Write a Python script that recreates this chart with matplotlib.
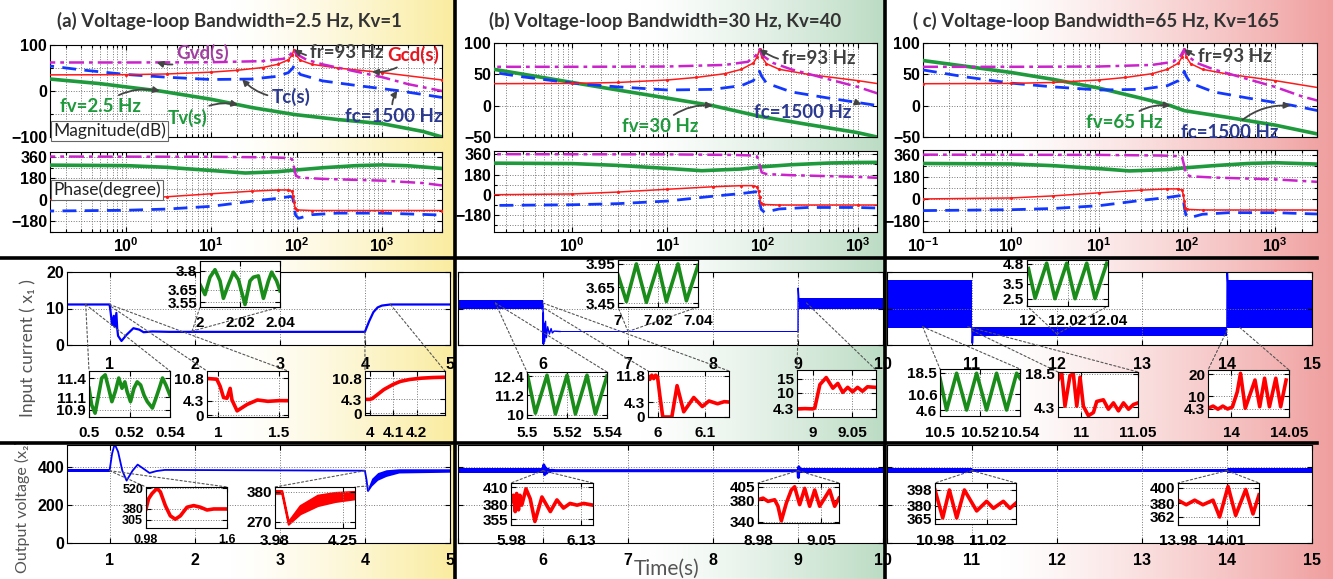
import numpy as np
import matplotlib
matplotlib.use("Agg")
import matplotlib.pyplot as plt
from matplotlib.patches import ConnectionPatch
from matplotlib.lines import Line2D
from matplotlib.ticker import NullFormatter

# ---------------- Bode data (Hz, dB, degree) ----------------
gvd_f = [0.1, 1, 10, 40, 70, 85, 93, 100, 130, 200, 500, 1000, 2000, 5000]
gvd_db = [62, 62, 62.5, 65, 70, 80, 90, 80, 68, 58, 42, 30, 15, 0]
gcd_f = [0.1, 1, 3, 10, 20, 40, 60, 80, 88, 93, 98, 110, 150, 300, 1000, 5000]
gcd_db = [35, 35.5, 37, 41, 45, 51, 58, 68, 78, 90, 78, 67, 58, 50, 40, 24]
tc_f = [0.1, 0.3, 1, 3, 10, 30, 60, 80, 90, 93, 97, 110, 200, 500, 1500, 5000]
tc_db = [57, 46, 36, 30, 25, 26, 32, 40, 50, 55, 48, 36, 22, 12, 1, -14]

gvd_ph_f = [0.1, 10, 50, 80, 88, 93, 98, 110, 200, 1000, 3000, 5000]
gvd_ph = [362, 360, 355, 350, 340, 270, 200, 185, 175, 160, 140, 120]
gcd_ph_f = [0.1, 1, 3, 10, 30, 60, 80, 88, 91, 93, 96, 100, 150, 1000, 5000]
gcd_ph = [0, 8, 25, 50, 72, 82, 82, 70, 30, -20, -70, -85, -90, -90, -90]
tc_ph_f = [0.1, 1, 3, 10, 30, 60, 85, 90, 93, 97, 105, 150, 300, 1000, 5000]
tc_ph = [-95, -88, -78, -55, -12, 12, 28, 15, -60, -130, -155, -125, -112, -112, -128]

# voltage loop gain Tv(s) for the three bandwidths
tva_f = [0.13, 0.5, 1, 2.5, 10, 30, 93, 300, 1000, 3000, 5000]
tva_db = [26, 16, 9, 0, -18, -36, -51, -62, -71, -88, -100]
tva_ph_f = [0.13, 1, 3, 10, 25, 60, 93, 200, 500, 1000, 2000, 5000]
tva_ph = [290, 286, 272, 245, 224, 235, 248, 268, 286, 292, 285, 262]

tvb_f = [0.15, 1, 3, 10, 30, 93, 300, 1000, 1600]
tvb_db = [58, 37, 25, 12, 0, -17, -30, -43, -50]
tvb_ph_f = [0.15, 1, 3, 10, 23, 60, 93, 200, 500, 1000, 1600]
tvb_ph = [282, 278, 262, 235, 215, 230, 248, 268, 283, 288, 289]

tvc_f = [0.1, 0.3, 1, 3, 10, 30, 65, 93, 300, 1000, 3000]
tvc_db = [72, 63, 53, 42, 28, 12, 0, -8, -19, -31, -45]
tvc_ph_f = [0.1, 1, 3, 10, 22, 60, 93, 200, 500, 1000, 3000]
tvc_ph = [290, 286, 272, 248, 229, 240, 254, 272, 290, 296, 285]

# ---------------- time-domain data ----------------
# input current, case (a)
ia_t = [0.5, 1.0, 1.01, 1.03, 1.05, 1.06, 1.08, 1.09, 1.1, 1.14, 1.2, 1.28, 1.35, 1.4, 1.5, 1.7,
        4.0, 4.05, 4.1, 4.15, 4.2, 4.3, 5.0]
ia_v = [11.1, 11.1, 9.5, 5.5, 8.0, 5.0, 8.8, 4.5, 2.5, 1.1, 2.8, 4.6, 4.2, 3.5, 3.7, 3.6,
        3.6, 6.5, 9.0, 10.3, 10.8, 11.1, 11.1]
# input current, case (b)
ib_band1_t = [5.0, 6.0]
ib_band1_lo = [10.0, 10.0]
ib_band1_hi = [12.4, 12.4]
ib_step_t = [6.0, 6.002, 6.004, 6.008, 6.012, 6.02, 6.03, 6.04, 6.055, 6.075, 6.095, 6.11, 6.13, 6.2]
ib_step_v = [11.0, 0.3, 8.8, 0.3, 6.0, 1.0, 6.5, 2.0, 5.0, 3.0, 4.5, 3.3, 3.8, 3.7]
ib_band2_t = [6.15, 9.0]
ib_band2_lo = [3.45, 3.45]
ib_band2_hi = [3.95, 3.95]
ib_step2_t = [9.0, 9.002, 9.012]
ib_step2_v = [3.7, 15.6, 12.0]
ib_band3_t = [9.01, 10.0]
ib_band3_lo = [9.8, 9.8]
ib_band3_hi = [12.9, 12.9]
# input current, case (c)
ic_band_t = [10.0, 11.0, 11.0, 14.0, 14.0, 15.0]
ic_band_lo = [4.6, 4.6, 2.4, 2.4, 4.6, 4.6]
ic_band_hi = [17.8, 17.8, 4.9, 4.9, 17.8, 17.8]
ic_step1_t = [11.0, 11.004, 11.01]
ic_step1_v = [4.6, 0.5, 3.0]
ic_step2_t = [14.0, 14.003, 14.01]
ic_step2_v = [4.9, 20.0, 17.0]

# output voltage
va_band1_t = [0.5, 1.0]
va_band1_lo = [372, 372]
va_band1_hi = [390, 390]
va_t = [1.0, 1.03, 1.06, 1.1, 1.15, 1.2, 1.27, 1.33, 1.4, 1.47, 1.55, 1.65, 4.0, 4.02, 4.035]
va_v = [380, 470, 520, 480, 380, 328, 380, 412, 390, 368, 378, 384, 380, 330, 275]
va_band2_t = [4.035, 4.08, 4.15, 4.25, 4.4, 5.0]
va_band2_lo = [270, 300, 330, 350, 368, 372]
va_band2_hi = [290, 340, 370, 385, 390, 390]

vb_band1_t = [5.0, 6.0]
vb_band1_lo = [370, 370]
vb_band1_hi = [392, 392]
vb_t = [6.0, 6.01, 6.02, 6.03, 6.045, 6.06, 6.08, 6.1, 6.15, 9.0, 9.005, 9.01, 9.02]
vb_v = [380, 410, 360, 395, 368, 388, 375, 382, 380, 380, 345, 400, 380]
vb_band2_t = [9.02, 10.0]
vb_band2_lo = [370, 370]
vb_band2_hi = [392, 392]

vc_band_t = [10.0, 11.0, 11.0, 14.0, 14.0, 15.0]
vc_band_lo = [368, 368, 374, 374, 368, 368]
vc_band_hi = [394, 394, 388, 388, 394, 394]

# zoomed windows: input current
za_top_t = [2.000, 2.0025, 2.005, 2.0075, 2.010, 2.0117, 2.0142, 2.0167, 2.0192, 2.0225, 2.025,
            2.0267, 2.0292, 2.0317, 2.0342, 2.0358, 2.0383, 2.040]
za_top_v = [3.69, 3.61, 3.75, 3.81, 3.72, 3.58, 3.69, 3.79, 3.73, 3.53, 3.72, 3.75, 3.76, 3.58,
            3.72, 3.79, 3.72, 3.64]
za_left_t = [0.5, 0.5013, 0.503, 0.5047, 0.5063, 0.508, 0.5097, 0.5113, 0.513, 0.5147, 0.5163,
             0.5177, 0.5188, 0.5205, 0.5222, 0.5238, 0.5255, 0.5272, 0.5288, 0.5313, 0.533,
             0.5347, 0.5363, 0.538, 0.54]
za_left_v = [11.24, 10.98, 10.85, 11.13, 11.4, 11.45, 11.24, 11.03, 11.19, 11.4, 11.24, 11.34,
             11.19, 11.03, 11.24, 11.34, 11.29, 11.13, 11.03, 10.93, 11.08, 11.24, 11.4, 11.29, 11.13]
za_mid_t = [0.91, 0.99, 1.018, 1.046, 1.074, 1.10, 1.115, 1.157, 1.24, 1.324, 1.41, 1.50, 1.575]
za_mid_v = [10.8, 10.6, 8.5, 5.2, 5.0, 7.9, 4.5, 1.3, 3.2, 4.5, 4.1, 4.3, 4.3]
za_right_t = [3.98, 4.0, 4.01, 4.03, 4.06, 4.1, 4.13, 4.17, 4.22, 4.27, 4.32]
za_right_v = [4.3, 4.3, 4.5, 5.6, 7.3, 8.9, 9.8, 10.4, 10.8, 11.0, 11.1]

zb_top_t = [7.0, 7.0042, 7.0092, 7.0142, 7.02, 7.0242, 7.03, 7.0342, 7.04]
zb_top_v = [3.81, 3.47, 3.95, 3.46, 3.94, 3.47, 3.95, 3.48, 3.93]
zb_left_t = [5.5003, 5.5042, 5.51, 5.5142, 5.52, 5.5242, 5.53, 5.5342, 5.54]
zb_left_v = [12.4, 10.1, 12.45, 10.05, 12.45, 10.05, 12.45, 10.05, 12.4]
zb_mid_t = [5.98, 5.984, 5.988, 5.992, 5.996, 6.0, 6.005, 6.011, 6.03, 6.041, 6.055, 6.076,
            6.094, 6.108, 6.126, 6.14, 6.15]
zb_mid_v = [11.8, 10.8, 12.0, 11.0, 12.0, 11.5, 6.0, 0.0, 0.0, 9.0, 1.5, 5.6, 3.0, 4.6, 3.8, 4.4, 4.3]
zb_right_t = [8.98, 8.99, 9.0, 9.0025, 9.009, 9.017, 9.0254, 9.0317, 9.0379, 9.0442, 9.0504,
              9.0567, 9.0629, 9.0692, 9.0788]
zb_right_v = [4.3, 4.4, 4.3, 4.6, 13.0, 15.5, 11.7, 13.4, 10.2, 12.0, 10.4, 12.0, 10.6, 12.2, 12.0]

zc_top_t = [12.0007, 12.004, 12.0097, 12.0138, 12.0196, 12.0237, 12.0295, 12.0336, 12.0394]
zc_top_v = [4.5, 2.55, 4.85, 2.52, 4.85, 2.52, 4.85, 2.52, 4.85]
zc_left_t = [10.5, 10.5033, 10.5083, 10.5133, 10.5183, 10.5233, 10.5283, 10.5333, 10.5383, 10.54]
zc_left_v = [16.5, 4.6, 18.4, 4.6, 18.4, 4.6, 18.4, 4.6, 18.4, 16.5]
zc_mid_t = [10.98, 10.9832, 10.9861, 10.9905, 10.9934, 10.9964, 10.9993, 11.0022, 11.0066,
            11.011, 11.0139, 11.0197, 11.0241, 11.0285, 11.0329, 11.0373, 11.0417, 11.046, 11.05]
zc_mid_v = [15.9, 19.0, 4.8, 17.8, 18.5, 4.8, 17.1, 4.8, 0.75, 2.1, 6.8, 7.5, 3.5, 6.2, 2.8,
            6.2, 3.5, 5.5, 6.2]
zc_right_t = [13.98, 13.9844, 13.9886, 13.9928, 13.9969, 14.0011, 14.0053, 14.0081, 14.0122,
              14.0206, 14.0247, 14.0289, 14.0331, 14.0386, 14.0428, 14.0475]
zc_right_v = [4.6, 5.6, 4.2, 5.6, 4.3, 5.2, 12.0, 20.3, 4.6, 17.3, 5.3, 18.1, 5.3, 18.1, 5.3, 17.3]

# zoomed windows: output voltage
wa1_t = [0.98, 1.0, 1.026, 1.064, 1.09, 1.128, 1.166, 1.204, 1.243, 1.294, 1.345, 1.396, 1.447, 1.498, 1.6]
wa1_v = [380, 450, 485, 520, 497, 403, 333, 310, 333, 392, 403, 392, 373, 380, 380]
wa2_t = [3.98, 4.007, 4.033, 4.08, 4.15, 4.22, 4.30]
wa2_lo = [375, 375, 262, 300, 330, 345, 355]
wa2_hi = [385, 385, 272, 330, 368, 378, 382]
wb1_t = [5.98, 5.985, 5.989, 5.992, 5.996, 5.999, 6.003, 6.012, 6.021, 6.031, 6.046, 6.064,
         6.078, 6.092, 6.106, 6.121, 6.135, 6.155]
wb1_v = [385, 396, 368, 399, 371, 396, 379, 407, 390, 351, 393, 368, 388, 374, 382, 379, 382, 379]
wb2_t = [8.98, 8.9856, 8.9911, 8.9985, 9.0022, 9.0059, 9.0115, 9.017, 9.0207, 9.0263, 9.0319,
         9.0374, 9.043, 9.0485, 9.0596, 9.0652, 9.07]
wb2_v = [381, 384, 378, 381, 369, 342, 375, 399, 405, 372, 402, 369, 399, 369, 399, 369, 384]
wc1_t = [10.98, 10.9859, 10.991, 10.9966, 11.0025, 11.0119, 11.0195, 11.0247, 11.0323, 11.0374, 11.042]
wc1_v = [398, 366, 398, 366, 398, 374, 385, 377, 385, 377, 383]
wc2_t = [13.98, 13.9851, 13.9903, 13.9954, 14.0016, 14.0057, 14.0109, 14.0156, 14.0218, 14.0263, 14.03]
wc2_v = [384, 378, 384, 378, 384, 362, 402, 364, 398, 366, 391]

# ---------------- style ----------------
W, H = 1333, 579
MAG = '#cc22cc'
BLUE = '#1238ff'
GREEN = '#1e9a3c'
RED = '#ff1a1a'
IGREEN = '#1a8c1a'
IRED = '#ff0000'
HUM = ['Lato', 'DejaVu Sans']

plt.rcParams['font.family'] = ['Liberation Sans', 'DejaVu Sans']
plt.rcParams['font.weight'] = 'bold'
plt.rcParams['mathtext.fontset'] = 'custom'
plt.rcParams['mathtext.bf'] = 'Liberation Sans:bold'
plt.rcParams['mathtext.rm'] = 'Liberation Sans:bold'

fig = plt.figure(figsize=(W / 100, H / 100), dpi=100)


def px_ax(box, **kw):
    x0, y0, x1, y1 = box
    return fig.add_axes([x0 / W, 1 - y1 / H, (x1 - x0) / W, (y1 - y0) / H], **kw)


# background gradient of the three panels
xs = np.arange(W)
img = np.ones((1, W, 3))
for lo, hi, start, stop, rgb in [(0, 455, 230, 452, (250, 236, 160)),
                                 (455, 885, 640, 882, (188, 220, 196)),
                                 (885, W, 1000, 1333, (240, 158, 158))]:
    m = (xs >= lo) & (xs < hi)
    s = np.clip((xs[m] - start) / (stop - start), 0, 1) ** 1.3
    img[0, m] = (1 - s[:, None]) + s[:, None] * np.array(rgb) / 255
bg = fig.add_axes([0, 0, 1, 1], zorder=-5)
bg.imshow(img, aspect='auto', extent=[0, W, H, 0])
bg.axis('off')


def grid_style(ax, fs=11):
    ax.grid(True, which='both', ls=':', color='#777', lw=0.7)
    ax.tick_params(which='both', direction='in', top=True, right=True, labelsize=fs, width=0.8)
    ax.set_facecolor('white')


def bode(mbox, pbox, xlim, xt, mylim, myt, mminor, pylim, tv_f, tv_db, tvp_f, tvp):
    axm = px_ax(mbox)
    axp = px_ax(pbox)
    axm.plot(tv_f, tv_db, color=GREEN, lw=2.6, zorder=3)
    axm.plot(tc_f, tc_db, color=BLUE, lw=2, ls=(0, (5, 3)), zorder=4)
    axm.plot(gcd_f, gcd_db, color=RED, lw=1.1, marker='.', ms=2.5, markevery=0.012, zorder=5)
    axm.plot(gvd_f, gvd_db, color=MAG, lw=1.8, ls=(0, (6, 2, 1.5, 2)), zorder=6)
    axp.plot(tvp_f, tvp, color=GREEN, lw=2.6, zorder=3)
    axp.plot(tc_ph_f, tc_ph, color=BLUE, lw=2, ls=(0, (5, 3)), zorder=4)
    axp.plot(gcd_ph_f, gcd_ph, color=RED, lw=1.1, marker='.', ms=2.5, markevery=0.012, zorder=5)
    axp.plot(gvd_ph_f, gvd_ph, color=MAG, lw=1.8, ls=(0, (6, 2, 1.5, 2)), zorder=6)
    for ax in (axm, axp):
        ax.set_xscale('log')
        ax.set_xlim(xlim)
        ax.set_xticks(xt)
        ax.xaxis.set_minor_formatter(NullFormatter())
        grid_style(ax, fs=11.5)
        ax.tick_params(axis='y', pad=2)
    axm.set_xticklabels([])
    axp.set_xticklabels([r'$\mathbf{10^{%d}}$' % int(round(np.log10(v))) for v in xt])
    axp.tick_params(axis='x', pad=3)
    axm.set_ylim(mylim)
    axm.set_yticks(myt)
    axm.set_yticks(mminor, minor=True)
    axp.set_ylim(pylim)
    axp.set_yticks([-180, 0, 180, 360])
    axp.set_yticks([-270, -90, 90, 270], minor=True)
    return axm, axp


def note(ax, txt, xy, pos, color, size=13.5):
    ax.annotate(txt, xy=xy, xycoords='data', xytext=(pos[0], H - pos[1]),
                textcoords='figure pixels', ha='center', va='center', color=color,
                fontsize=size, family=HUM, weight='bold', zorder=10,
                arrowprops=dict(arrowstyle='-|>', color='#444', lw=1.3, mutation_scale=9,
                                shrinkA=1, shrinkB=0, connectionstyle='arc3,rad=-0.25'))


# ---- Bode panels ----
ma, pa = bode((50, 45, 442, 137), (50, 152, 442, 232), (0.13, 5000), [1, 10, 100, 1000],
              (-100, 100), [-100, 0, 100], [-50, 50], (-200, 400),
              tva_f, tva_db, tva_ph_f, tva_ph)
mb, pb = bode((494, 43, 877, 137), (494, 151, 877, 232), (0.15, 1600), [1, 10, 100, 1000],
              (-50, 100), [-50, 0, 50, 100], [], (-330, 390),
              tvb_f, tvb_db, tvb_ph_f, tvb_ph)
mc, pc = bode((923, 43, 1317, 137), (923, 150, 1317, 232), (0.1, 3000), [0.1, 1, 10, 100, 1000],
              (-50, 100), [-50, 0, 50, 100], [], (-200, 400),
              tvc_f, tvc_db, tvc_ph_f, tvc_ph)

for x, txt in [(229, '(a) Voltage-loop Bandwidth=2.5 Hz, Kv=1'),
               (665, '(b) Voltage-loop Bandwidth=30 Hz, Kv=40'),
               (1096, '( c) Voltage-loop Bandwidth=65 Hz, Kv=165')]:
    fig.text(x / W, 1 - 21 / H, txt, ha='center', va='center', fontsize=13.4,
             family=HUM, weight='bold', color='#333333')

note(ma, 'Gvd(s)', (2.3, 62), (203, 53), '#a23ea2')
note(ma, 'Gcd(s)', (760, 42), (413, 55), '#e8141e')
note(ma, 'fr=93 Hz', (93, 90), (347, 53), '#404040')
note(ma, 'Tc(s)', (23, 25.5), (291, 97), '#2b3990')
note(ma, 'fc=1500 Hz', (1500, 1), (394, 117), '#2b3990')
note(ma, 'fv=2.5 Hz', (2.5, 0), (101, 107), GREEN)
note(ma, 'Tv(s)', (20.6, -30), (188, 118), GREEN)
note(mb, 'fr=93 Hz', (93, 90), (819, 58), '#404040')
note(mb, 'fc=1500 Hz', (1100, 2), (803, 112), '#2b3990')
note(mb, 'fv=30 Hz', (30, 0), (660, 127), GREEN)
note(mc, 'fr=93 Hz', (93, 90), (1235, 57), '#404040')
note(mc, 'fc=1500 Hz', (1500, 0), (1230, 132), '#2b3990')
note(mc, 'fv=65 Hz', (65, 0), (1124, 123), GREEN)

for y, txt in [(131, 'Magnitude(dB)'), (190, 'Phase(degree)')]:
    fig.text(53 / W, 1 - y / H, txt, ha='left', va='center', fontsize=12.5, family=HUM,
             weight='normal', color='#222', zorder=12,
             bbox=dict(boxstyle='square,pad=0.12', fc='white', ec='#666', lw=0.8))


# ---- time-domain panels ----
def time_ax(box, xlim, xt, ylim, yt, labels, pad, first=True):
    ax = px_ax(box)
    ax.set_xlim(xlim)
    ax.set_ylim(ylim)
    ax.set_xticks(xt)
    ax.set_xticklabels(['%g' % v if (first or i > 0) else '' for i, v in enumerate(xt)])
    ax.set_yticks(yt)
    grid_style(ax, fs=11.5)
    ax.tick_params(axis='x', pad=pad)
    ax.tick_params(axis='y', pad=2)
    if not labels:
        ax.set_yticklabels([])
    return ax


ca = time_ax((67, 272, 450, 345), (0.5, 5), [1, 2, 3, 4, 5], (0, 20), [0, 10, 20], True, 8.5)
cb = time_ax((458, 272, 883, 345), (5, 10), [5, 6, 7, 8, 9, 10], (0, 20), [0, 10, 20], False, 8.5, False)
cc = time_ax((887, 272, 1312, 345), (10, 15), [10, 11, 12, 13, 14, 15], (0, 20), [0, 10, 20], False, 8.5, False)
va = time_ax((67, 445, 450, 543), (0.5, 5), [1, 2, 3, 4, 5], (0, 515), [0, 200, 400], True, 7)
vb = time_ax((458, 445, 883, 543), (5, 10), [5, 6, 7, 8, 9, 10], (0, 515), [0, 200, 400], False, 7, False)
vc = time_ax((887, 445, 1312, 543), (10, 15), [10, 11, 12, 13, 14, 15], (0, 515), [0, 200, 400], False, 7, False)

ca.plot(ia_t, ia_v, color='#0000ff', lw=1.6)
cb.fill_between(ib_band1_t, ib_band1_lo, ib_band1_hi, color='#0000ff', lw=0)
cb.plot(ib_step_t, ib_step_v, color='#0000ff', lw=1.0)
cb.fill_between(ib_band2_t, ib_band2_lo, ib_band2_hi, color='#0000ff', lw=0)
cb.plot(ib_step2_t, ib_step2_v, color='#0000ff', lw=1.0)
cb.fill_between(ib_band3_t, ib_band3_lo, ib_band3_hi, color='#0000ff', lw=0)
cc.fill_between(ic_band_t, ic_band_lo, ic_band_hi, color='#0000ff', lw=0)
cc.plot(ic_step1_t, ic_step1_v, color='#0000ff', lw=1.2)
cc.plot(ic_step2_t, ic_step2_v, color='#0000ff', lw=1.2)

va.fill_between(va_band1_t, va_band1_lo, va_band1_hi, color='#0000ff', lw=0)
va.plot(va_t, va_v, color='#0000ff', lw=1.3)
va.fill_between(va_band2_t, va_band2_lo, va_band2_hi, color='#0000ff', lw=0)
vb.fill_between(vb_band1_t, vb_band1_lo, vb_band1_hi, color='#0000ff', lw=0)
vb.plot(vb_t, vb_v, color='#0000ff', lw=2.2)
vb.fill_between(vb_band2_t, vb_band2_lo, vb_band2_hi, color='#0000ff', lw=0)
vc.fill_between(vc_band_t, vc_band_lo, vc_band_hi, color='#0000ff', lw=0)

fig.text(28 / W, 1 - 348 / H, 'Input current ( x\u2081 )', rotation=90, ha='center', va='center',
         fontsize=12.5, family=HUM, weight='normal', color='#555')
fig.text(22 / W, 1 - 507 / H, 'Output voltage (x\u2082)', rotation=90, ha='center', va='center',
         fontsize=11.5, family=HUM, weight='normal', color='#555')
fig.text(667 / W, 1 - 569 / H, 'Time(s)', ha='center', va='center', fontsize=15,
         family=HUM, weight='normal', color='#555')


# ---- zoom windows ----
def inset(box, xlim, xt, ylim, yt, lab_y, fs=11):
    ax = px_ax(box, zorder=3)
    ax.set_xlim(xlim)
    ax.set_ylim(ylim)
    ax.set_xticks(xt)
    ax.set_xticklabels(['%g' % v for v in xt])
    ax.set_yticks(yt)
    ax.set_yticklabels(['%g' % v for v in yt])
    grid_style(ax, fs=fs)
    ax.tick_params(axis='x', pad=max(lab_y - 6 - box[3], 1) * 0.72)
    ax.tick_params(axis='y', pad=2)
    return ax


def link(main, pt, ax, corner):
    con = ConnectionPatch(xyA=pt, coordsA=main.transData, xyB=corner, coordsB=ax.transAxes,
                          ls=(0, (2, 2)), color='#555', lw=0.8, zorder=2)
    fig.add_artist(con)


windows = [
    # main, box, xlim, xticks, ylim, yticks, label y, data, colour, links
    (ca, (200, 261, 280, 307), (2, 2.04), [2, 2.02, 2.04], (3.51, 3.88), [3.55, 3.65, 3.8], 322,
     (za_top_t, za_top_v), IGREEN, [((1.97, 3.8), (0, 0)), ((1.97, 3.8), (1, 0))]),
    (ca, (89, 371, 170, 417), (0.5, 0.54), [0.5, 0.52, 0.54], (10.79, 11.51), [10.9, 11.1, 11.4], 432,
     (za_left_t, za_left_v), IGREEN, [((0.72, 11.1), (0, 1)), ((0.72, 11.1), (1, 1))]),
    (ca, (207, 371, 288, 417), (0.91, 1.575), [1, 1.5], (-0.5, 13), [0, 4.3, 10.8], 432,
     (za_mid_t, za_mid_v), IRED, [((1.02, 10.5), (0, 1)), ((1.0, 11.1), (1, 1))]),
    (ca, (365, 371, 445, 415), (3.98, 4.32), [4, 4.1, 4.2], (-0.5, 13), [0, 4.3, 10.8], 432,
     (za_right_t, za_right_v), IRED, [((4.0, 3.6), (0, 1)), ((4.3, 11.1), (1, 1))]),
    (cb, (618, 260, 698, 307), (7, 7.04), [7, 7.02, 7.04], (3.4, 4.0), [3.45, 3.65, 3.95], 320,
     (zb_top_t, zb_top_v), IGREEN, [((7.0, 3.7), (0, 0)), ((7.0, 3.7), (1, 0))]),
    (cb, (527, 372, 607, 418), (5.5, 5.54), [5.5, 5.52, 5.54], (9.8, 12.65), [10, 11.2, 12.4], 432,
     (zb_left_t, zb_left_v), IGREEN, [((5.44, 11.5), (0, 1)), ((5.44, 11.5), (1, 1))]),
    (cb, (648, 371, 729, 417), (5.98, 6.15), [6, 6.1], (0, 13.2), [0, 4.3, 11.8], 432,
     (zb_mid_t, zb_mid_v), IRED, [((6.02, 10.0), (0, 1)), ((6.0, 11.5), (1, 1))]),
    (cb, (797, 370, 876, 417), (8.98, 9.08), [9, 9.05], (1.4, 18.2), [4.3, 10, 15], 432,
     (zb_right_t, zb_right_v), IRED, [((9.0, 4.0), (0, 1)), ((9.1, 11.5), (1, 1))]),
    (cc, (1027, 260, 1108, 306), (12, 12.04), [12, 12.02, 12.04], (2.04, 5.06), [2.5, 3.5, 4.8], 320,
     (zc_top_t, zc_top_v), IGREEN, [((12.0, 3.0), (0, 0)), ((12.0, 3.0), (1, 0))]),
    (cc, (940, 369, 1020, 416), (10.5, 10.54), [10.5, 10.52, 10.54], (2.35, 20), [4.6, 10.6, 18.5], 432,
     (zc_left_t, zc_left_v), IGREEN, [((10.42, 5.0), (0, 1)), ((10.42, 5.0), (1, 1))]),
    (cc, (1058, 372, 1138, 417), (10.98, 11.05), [11, 11.05], (0.2, 19.3), [4.3, 18.5], 432,
     (zc_mid_t, zc_mid_v), IRED, [((11.0, 4.0), (0, 1)), ((10.95, 5.0), (1, 1))]),
    (cc, (1208, 370, 1289, 417), (13.98, 14.05), [14, 14.05], (0.7, 21.8), [4.3, 10, 20], 432,
     (zc_right_t, zc_right_v), IRED, [((14.0, 4.0), (0, 1)), ((14.15, 4.8), (1, 1))]),
    (va, (146, 487, 227, 528), (0.98, 1.6), [0.98, 1.6], (250, 530), [305, 380, 520], 540,
     (wa1_t, wa1_v), IRED, [((1.0, 380), (0, 1)), ((1.0, 380), (1, 1))]),
    (vb, (511, 483, 593, 525), (5.98, 6.155), [5.98, 6.13], (345, 417), [355, 380, 410], 540,
     (wb1_t, wb1_v), IRED, [((6.0, 380), (0, 1)), ((6.0, 380), (1, 1))]),
    (vb, (758, 483, 839, 523), (8.98, 9.07), [8.98, 9.05], (338, 412), [340, 380, 405], 540,
     (wb2_t, wb2_v), IRED, [((9.0, 380), (0, 1)), ((9.0, 380), (1, 1))]),
    (vc, (935, 483, 1016, 524), (10.98, 11.042), [10.98, 11.02], (359, 406), [365, 380, 398], 540,
     (wc1_t, wc1_v), IRED, [((11.0, 380), (0, 1)), ((11.0, 380), (1, 1))]),
    (vc, (1178, 483, 1259, 525), (13.98, 14.03), [13.98, 14.01], (351.5, 406.5), [362, 380, 400], 540,
     (wc2_t, wc2_v), IRED, [((14.0, 380), (0, 1)), ((14.0, 380), (1, 1))]),
]

for main, box, xl, xt, yl, yt, lab_y, (tt, vv), col, links in windows:
    fs = 9 if yl == (250, 530) else 11
    ax = inset(box, xl, xt, yl, yt, lab_y, fs)
    ax.plot(tt, vv, color=col, lw=2.6, solid_joinstyle='round')
    for pt, corner in links:
        link(main, pt, ax, corner)

# output voltage window (a) at 4 s is a thick band
ax_w = inset((275, 487, 355, 528), (3.98, 4.3), [3.98, 4.25], (248, 398), [270, 380], 540)
ax_w.fill_between(wa2_t, wa2_lo, wa2_hi, color=IRED, lw=1.5, edgecolor=IRED)
link(va, (4.0, 380), ax_w, (0, 1))
link(va, (4.04, 300), ax_w, (1, 1))

# thick frame lines
for x0, y0, x1, y1 in [(0, 258, 1317, 258), (0, 443, 1317, 443), (455, 0, 455, 579), (885, 0, 885, 579)]:
    fig.add_artist(Line2D([x0 / W, x1 / W], [1 - y0 / H, 1 - y1 / H], color='black', lw=2.6, zorder=20))

fig.savefig('out.png', dpi=100)
